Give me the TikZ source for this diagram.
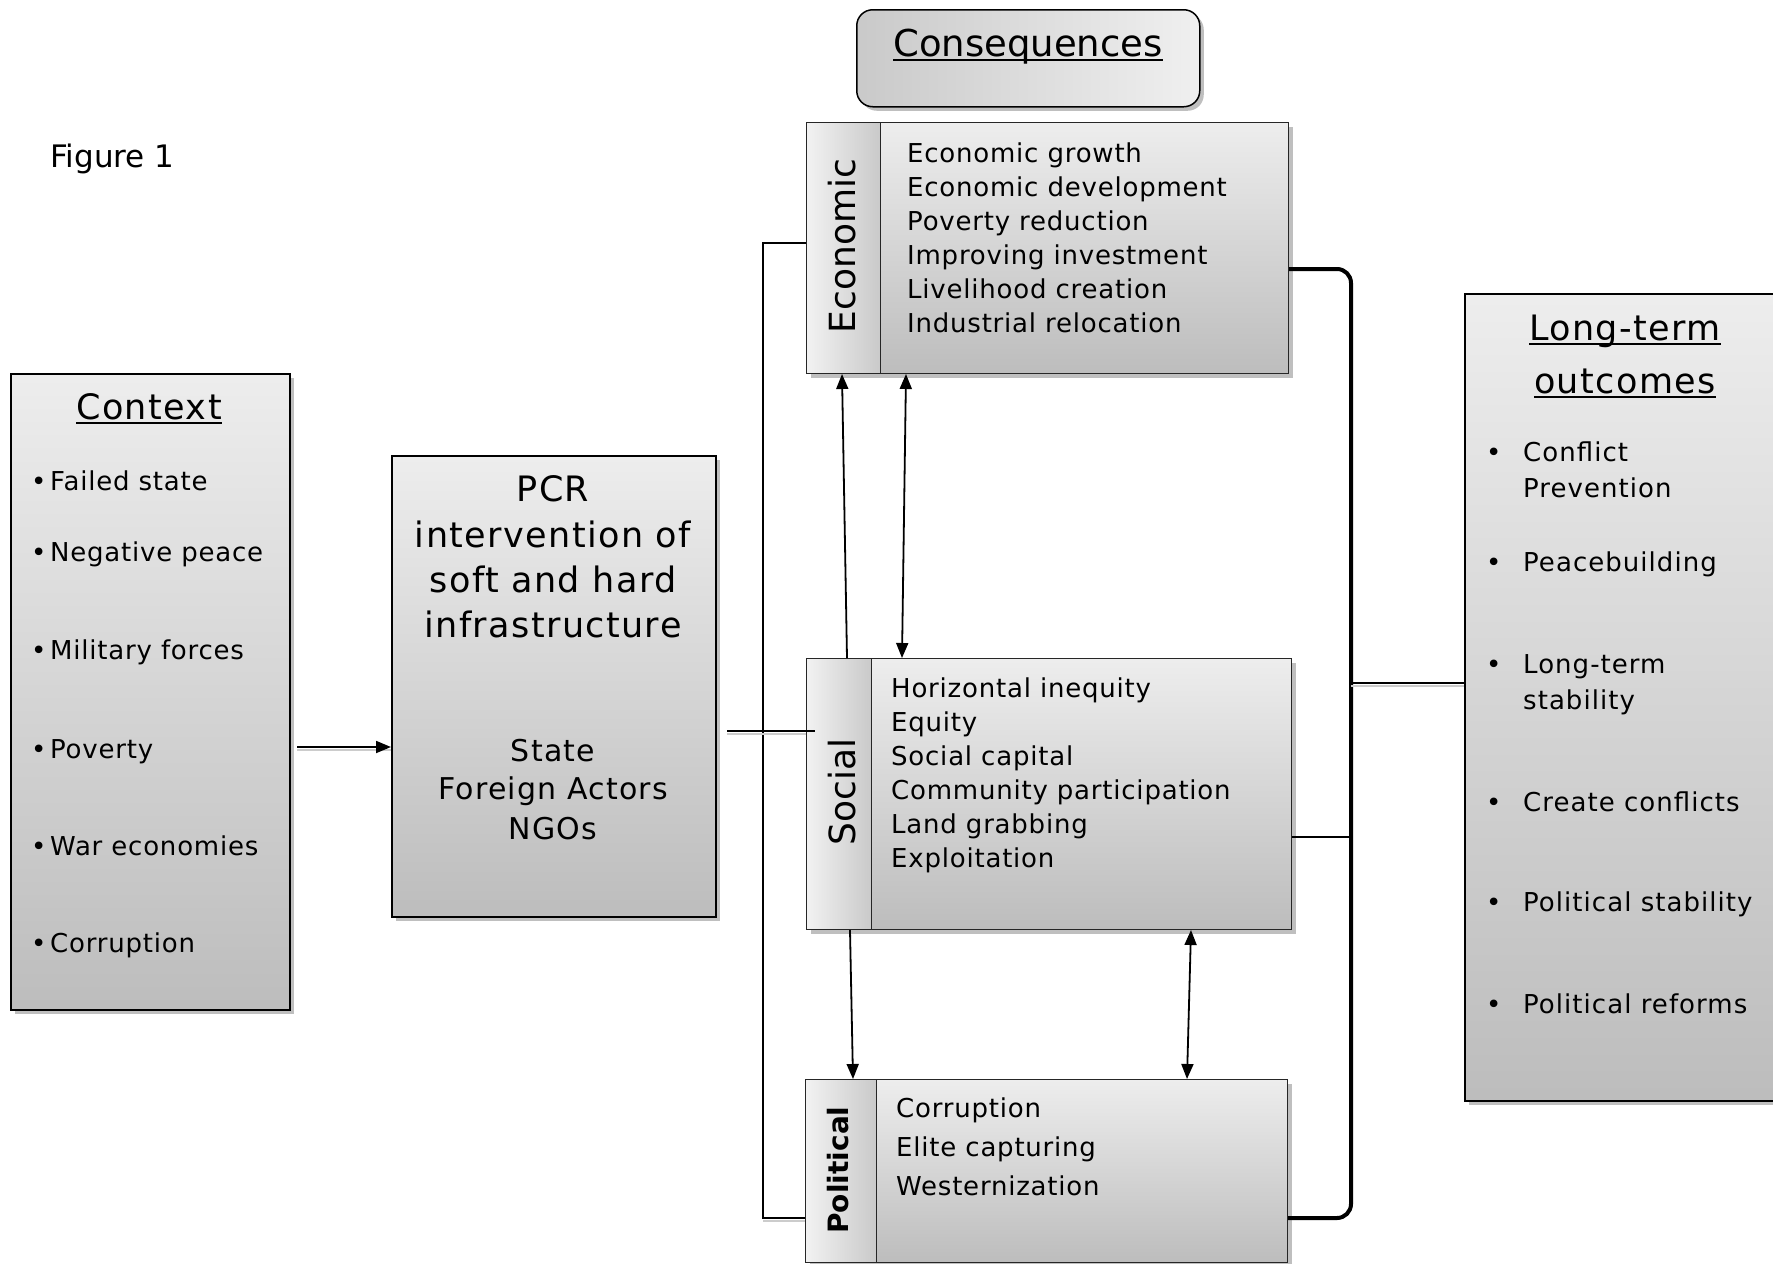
\documentclass[tikz,border=0pt]{standalone}
\usepackage{fontspec}
\setmainfont{DejaVu Sans}
\newfontfamily\widefont[LetterSpace=3]{DejaVu Sans}
\newfontfamily\ltfont[LetterSpace=4]{DejaVu Sans}
\newfontfamily\midfont[LetterSpace=4]{DejaVu Sans}
\newfontfamily\bodyfont[LetterSpace=3]{DejaVu Sans}
\usetikzlibrary{shadows,arrows.meta}
\newlength\ulw
\newcommand\myul[1]{\settowidth\ulw{#1}\rlap{\rule[-0.13em]{\ulw}{0.05em}}#1}

\begin{document}
\begin{tikzpicture}[x=1pt,y=-1pt,
  shad/.style={drop shadow={shadow xshift=4pt,shadow yshift=-4pt,fill=gray!50,opacity=1}},
  panel/.style 2 args={anchor=north west, inner sep=0pt, minimum width=#1, minimum height=#2},
  bigbox/.style={draw=black, line width=1.6pt, top color=gray!14, bottom color=gray!52, shad},
  conbox/.style={draw=gray!30!black, line width=1pt, top color=gray!14, bottom color=gray!52, shad},
  stripbox/.style={draw=gray!30!black, line width=0.6pt, left color=gray!10, right color=gray!42},
  txt/.style={anchor=base west, inner sep=0pt},
  ctxt/.style={anchor=base, inner sep=0pt},
  arr/.style={line width=1.8pt, -{Triangle[length=15pt,width=12pt]}},
  darr/.style={line width=1.8pt, {Triangle[length=15pt,width=12pt]}-{Triangle[length=15pt,width=12pt]}},
  wire/.style={line width=1.8pt},
  wshadow/.style={draw=gray!40, line width=2.5pt},
  ctxfont/.style={font=\widefont\fontsize{26}{31}\selectfont},
  ltofont/.style={font=\ltfont\fontsize{26}{31}\selectfont},
  bodyf/.style={font=\bodyfont\fontsize{26}{32}\selectfont}]

\fill[white] (0,0) rectangle (1773,1264);
\useasboundingbox (0,0) rectangle (1773,1264);
\clip (0,0) rectangle (1773,1264);

% boxes
\node[bigbox, panel={279pt}{636pt}] (ctx) at (10,373) {};
\node[bigbox, panel={324pt}{461pt}] (pcr) at (391,455) {};
\node[draw=black, line width=1.5pt, rounded corners=16pt, left color=gray!42, right color=gray!12, shad, panel={343pt}{97pt}] (cons) at (856,9) {};
\node[conbox, panel={482pt}{251pt}] (eco) at (806,122) {};
\node[stripbox, panel={74pt}{251pt}] (ecos) at (806,122) {};
\node[conbox, panel={485pt}{271pt}] (soc) at (806,658) {};
\node[stripbox, panel={65pt}{271pt}] (socs) at (806,658) {};
\node[conbox, panel={482pt}{183pt}] (pol) at (805,1079) {};
\node[stripbox, panel={71pt}{183pt}] (pols) at (805,1079) {};
\node[bigbox, panel={340pt}{807pt}] (lto) at (1464,293) {};

% texts
\node[txt, font=\fontsize{31}{37}\selectfont] (fig) at (50,167) {Figure 1};
\node[ctxt, font=\fontsize{37}{44}\selectfont] (consT) at (1028,56) {\myul{Consequences}};

\node[ctxt, font=\midfont\fontsize{35}{42}\selectfont] (ctxT) at (149,419) {\myul{Context}};
\foreach \s/\yy [count=\i] in {Failed state/490, Negative peace/561, Military forces/659, Poverty/758, War economies/855, Corruption/952}{
  \node[txt, ctxfont] (cb-\i) at (31,\yy) {\textbullet};
  \node[txt, ctxfont] (ci-\i) at (50,\yy) {\s};
}

\foreach \s/\yy [count=\i] in {PCR/501, intervention of/547, soft and hard/592, infrastructure/637}{
  \node[ctxt, font=\midfont\fontsize{35}{42}\selectfont] (pt-\i) at (553,\yy) {\s};
}
\foreach \s/\yy [count=\i] in {State/761, Foreign Actors/799, NGOs/839}{
  \node[ctxt, font=\midfont\fontsize{30}{36}\selectfont] (pa-\i) at (553,\yy) {\s};
}

\node[rotate=90, inner sep=0pt, font=\fontsize{36}{42}\selectfont] (ecoL) at (842,246) {Economic};
\node[rotate=90, inner sep=0pt, font=\fontsize{36}{42}\selectfont] (socL) at (842,792) {Social};
\node[rotate=90, inner sep=0pt, font=\bfseries\fontsize{28}{34}\selectfont] (polL) at (838,1170) {Political};

\foreach \s [count=\i] in {Economic growth, Economic development, Poverty reduction, Improving investment, Livelihood creation, Industrial relocation}{
  \node[txt, bodyf] (e-\i) at (907,128+34*\i) {\s};
}
\foreach \s [count=\i] in {Horizontal inequity, Equity, Social capital, Community participation, Land grabbing, Exploitation}{
  \node[txt, bodyf] (s-\i) at (891,663+34*\i) {\s};
}
\foreach \s [count=\i] in {Corruption, Elite capturing, Westernization}{
  \node[txt, bodyf] (p-\i) at (896,1078+39*\i) {\s};
}

\node[ctxt, font=\midfont\fontsize{35}{42}\selectfont] (ltT1) at (1625,340) {\myul{Long-term}};
\node[ctxt, font=\midfont\fontsize{35}{42}\selectfont] (ltT2) at (1625,393) {\myul{outcomes}};
\foreach \s/\yy [count=\i] in {Conflict/461, Peacebuilding/571, Long-term/673, Create conflicts/811, Political stability/911, Political reforms/1013}{
  \node[txt, ltofont] (lb-\i) at (1486,\yy) {\textbullet};
  \node[txt, ltofont] (li-\i) at (1523,\yy) {\s};
}
\node[txt, ltofont] (li-1b) at (1523,497) {Prevention};
\node[txt, ltofont] (li-3b) at (1523,709) {stability};

% connectors
\coordinate (ca) at (297,747);
\draw[wshadow] ([yshift=-3pt]ca) -- ([yshift=-3pt]ca -| pcr.west);
\draw[arr] (ca) -- (ca -| pcr.west);

\coordinate (lbt) at (763,243);
\coordinate (lbb) at (763,1218);
\draw[wshadow] ([yshift=-3pt]lbb) -- ([yshift=-3pt]pol.west |- lbb);
\draw[wire] (eco.west |- lbt) -- (lbt) -- (lbb) -- (pol.west |- lbb);

\coordinate (po) at (727,731);
\draw[wshadow] ([yshift=-3pt]po) -- ([yshift=-3pt]soc.west |- po);
\draw[wire] (po) -- ([xshift=9pt]soc.west |- po);

\draw[arr] ([xshift=41pt]soc.north west) -- ([xshift=36pt]eco.south west);
\draw[darr] ([xshift=100pt]eco.south west) -- ([xshift=96pt]soc.north west);
\draw[arr] ([xshift=44pt]soc.south west) -- ([xshift=48pt]pol.north west);
\draw[darr] ([xshift=385pt]soc.south west) -- ([xshift=382pt]pol.north west);

\coordinate (rbt) at (1351,269);
\coordinate (rbb) at (1351,1218);
\draw[line width=4pt, rounded corners=14pt] (eco.east |- rbt) -- (rbt) -- (rbb) -- (pol.east |- rbb);

\coordinate (rs) at (1351,837);
\draw[wire] (soc.east |- rs) -- (rs);

\coordinate (rl) at (1351,683);
\draw[wshadow] ([yshift=-3pt]rl) -- ([yshift=-3pt]rl -| lto.west);
\draw[wire] (rl) -- (rl -| lto.west);
\end{tikzpicture}
\end{document}
